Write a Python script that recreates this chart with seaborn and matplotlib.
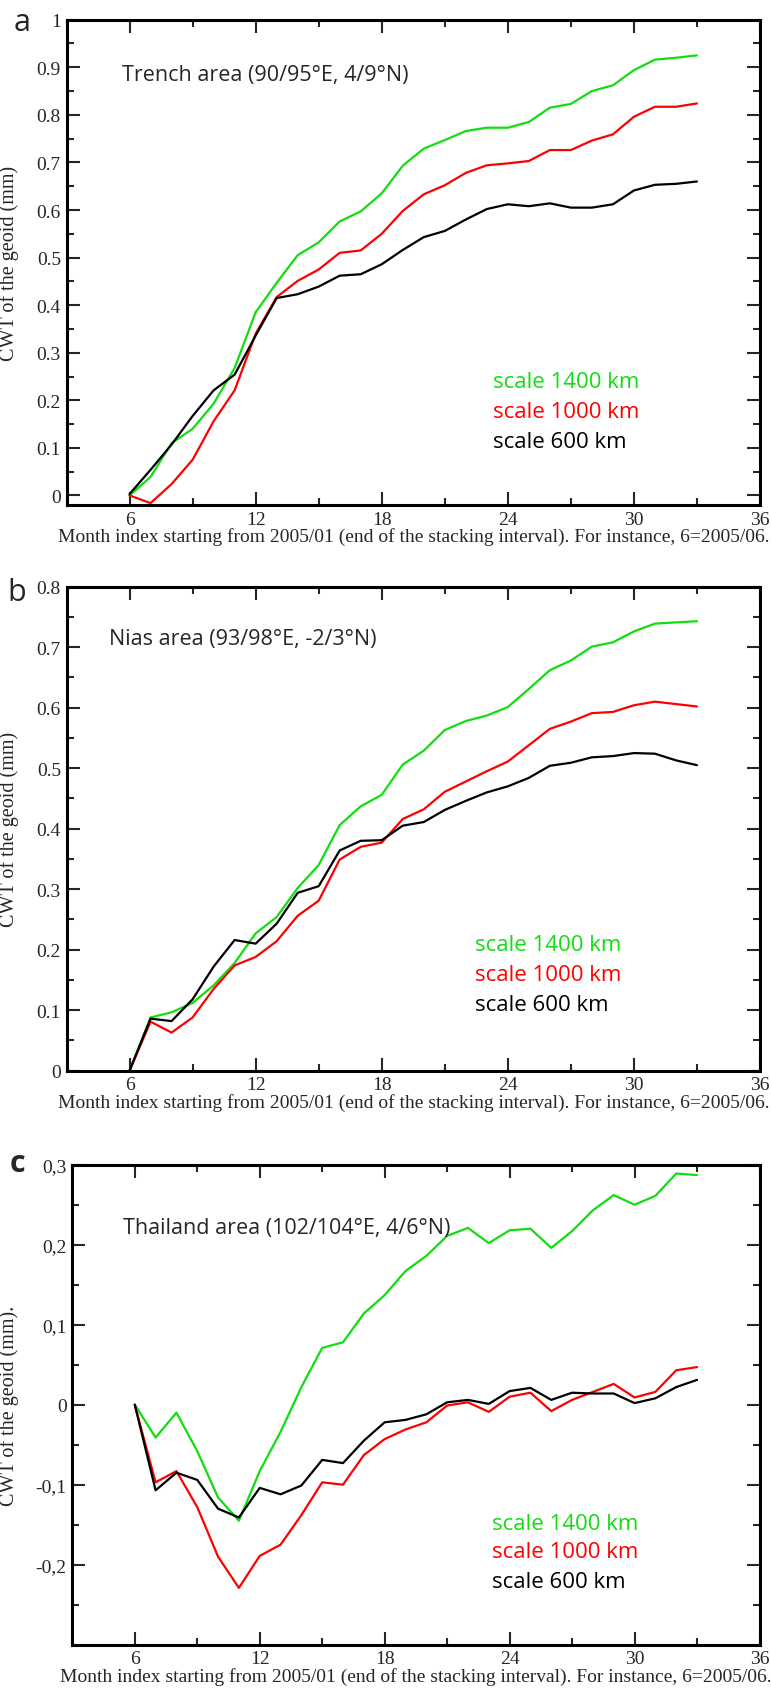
import pandas as pd
import seaborn as sns
import matplotlib.pyplot as plt
from matplotlib.ticker import MultipleLocator

# Month index (end of the stacking interval)
months = list(range(6, 34))

# Panel a: Trench area
trench_1400 = [0.0, 0.039, 0.110, 0.140, 0.193, 0.268, 0.385, 0.447, 0.505, 0.532,
               0.576, 0.597, 0.635, 0.693, 0.729, 0.747, 0.766, 0.773, 0.773, 0.785,
               0.815, 0.823, 0.850, 0.862, 0.894, 0.916, 0.920, 0.925]
trench_1000 = [0.0, -0.016, 0.024, 0.075, 0.156, 0.221, 0.340, 0.417, 0.451, 0.475,
               0.510, 0.515, 0.550, 0.598, 0.633, 0.652, 0.678, 0.694, 0.698, 0.703,
               0.726, 0.726, 0.746, 0.759, 0.796, 0.817, 0.817, 0.824]
trench_600 = [0.003, 0.054, 0.107, 0.167, 0.221, 0.254, 0.336, 0.415, 0.423, 0.439,
              0.462, 0.465, 0.486, 0.516, 0.543, 0.556, 0.580, 0.602, 0.612, 0.608,
              0.614, 0.605, 0.605, 0.612, 0.641, 0.653, 0.655, 0.660]

# Panel b: Nias area
nias_1400 = [0.0, 0.088, 0.0965, 0.112, 0.141, 0.178, 0.227, 0.254, 0.302, 0.340,
             0.406, 0.437, 0.456, 0.506, 0.529, 0.563, 0.578, 0.587, 0.601, 0.631,
             0.662, 0.678, 0.701, 0.708, 0.726, 0.739, 0.741, 0.743]
nias_1000 = [0.0, 0.081, 0.063, 0.088, 0.135, 0.174, 0.188, 0.214, 0.256, 0.281,
             0.349, 0.370, 0.377, 0.416, 0.432, 0.461, 0.478, 0.495, 0.511, 0.538,
             0.565, 0.577, 0.591, 0.593, 0.604, 0.610, 0.606, 0.602]
nias_600 = [0.0, 0.086, 0.082, 0.118, 0.172, 0.216, 0.210, 0.243, 0.294, 0.305,
            0.364, 0.380, 0.381, 0.405, 0.411, 0.431, 0.446, 0.460, 0.470, 0.484,
            0.504, 0.509, 0.518, 0.520, 0.525, 0.524, 0.513, 0.505]

# Panel c: Thailand area
thai_1400 = [0.0, -0.041, -0.010, -0.058, -0.116, -0.145, -0.083, -0.034, 0.022, 0.071,
             0.078, 0.114, 0.137, 0.167, 0.186, 0.211, 0.221, 0.202, 0.218, 0.220,
             0.196, 0.217, 0.243, 0.262, 0.250, 0.261, 0.289, 0.287]
thai_1000 = [0.0, -0.097, -0.083, -0.128, -0.190, -0.229, -0.189, -0.175, -0.138, -0.097,
             -0.100, -0.063, -0.043, -0.031, -0.022, -0.001, 0.003, -0.009, 0.010, 0.015,
             -0.008, 0.006, 0.016, 0.026, 0.009, 0.016, 0.043, 0.047]
thai_600 = [0.0, -0.107, -0.085, -0.094, -0.130, -0.141, -0.104, -0.112, -0.101, -0.069,
            -0.073, -0.045, -0.022, -0.019, -0.012, 0.003, 0.006, 0.001, 0.017, 0.021,
            0.006, 0.015, 0.014, 0.014, 0.002, 0.008, 0.022, 0.031]

scale_labels = ["scale 1400 km", "scale 1000 km", "scale 600 km"]
colors = ["#11dd11", "#ff0000", "#000000"]

# tick values and their printed labels
x_ticks = [6, 12, 18, 24, 30, 36]
y_ticks_a = [0, 0.1, 0.2, 0.3, 0.4, 0.5, 0.6, 0.7, 0.8, 0.9, 1.0]
y_labels_a = ["0", "0.1", "0.2", "0.3", "0.4", "0.5", "0.6", "0.7", "0.8", "0.9", "1"]
y_ticks_b = [0, 0.1, 0.2, 0.3, 0.4, 0.5, 0.6, 0.7, 0.8]
y_labels_b = ["0", "0.1", "0.2", "0.3", "0.4", "0.5", "0.6", "0.7", "0.8"]
y_ticks_c = [-0.2, -0.1, 0, 0.1, 0.2, 0.3]
y_labels_c = ["-0,2", "-0,1", "0", "0,1", "0,2", "0,3"]

area_titles = ["Trench area (90/95°E, 4/9°N)",
               "Nias area (93/98°E, -2/3°N)",
               "Thailand area (102/104°E, 4/6°N)"]
panel_letters = ["a", "b", "c"]
xlabel = ("Month index starting from 2005/01 (end of the stacking interval). "
          "For instance, 6=2005/06.")
ylabels = ["CWT of the geoid (mm)", "CWT of the geoid (mm)", "CWT of the geoid (mm)."]

sns.set_style("ticks")
serif = ["Liberation Serif", "DejaVu Serif"]
sans = ["Open Sans", "DejaVu Sans"]
plt.rcParams["font.family"] = serif

fig = plt.figure(figsize=(7.71, 16.9), dpi=100)

# axes rectangles in figure fraction
rects = [
    [66.5 / 771, 1 - 506.0 / 1690, 693.5 / 771, 485.3 / 1690],
    [66.5 / 771, 1 - 1071.7 / 1690, 693.5 / 771, 484.0 / 1690],
    [72.3 / 771, 1 - 1645.7 / 1690, 687.2 / 771, 480.0 / 1690],
]
ylims = [(-0.02, 1.0), (0.0, 0.8), (-0.3, 0.3)]
yticks = [(y_ticks_a, y_labels_a), (y_ticks_b, y_labels_b), (y_ticks_c, y_labels_c)]
panels = [(trench_1400, trench_1000, trench_600),
          (nias_1400, nias_1000, nias_600),
          (thai_1400, thai_1000, thai_600)]
title_pos = [(5.63, 0.884), (5.02, 0.714), (5.43, 0.222)]
legend_x = [23.29, 22.43, 23.15]
legend_y = [(0.240, 0.176, 0.114), (0.208, 0.159, 0.110), (-0.148, -0.184, -0.221)]
letter_pos = [(22, 23), (17, 593), (17, 1164)]

for i in range(3):
    ax = fig.add_axes(rects[i])
    df = pd.DataFrame({"month": months * 3,
                       "cwt": panels[i][0] + panels[i][1] + panels[i][2],
                       "scale": sum([[s] * len(months) for s in scale_labels], [])})
    sns.lineplot(data=df, x="month", y="cwt", hue="scale", palette=colors,
                 hue_order=scale_labels, linewidth=1.6, legend=False, ax=ax)

    ax.set_xticks(x_ticks, labels=[str(t) for t in x_ticks], fontsize=14,
                  family="Liberation Serif")
    ax.set_yticks(yticks[i][0], labels=yticks[i][1], fontsize=14,
                  family="Liberation Serif")
    ax.xaxis.set_minor_locator(MultipleLocator(3))
    ax.yaxis.set_minor_locator(MultipleLocator(0.05))
    ax.set_xlim(3, 36)
    ax.set_ylim(*ylims[i])

    ax.tick_params(which="both", direction="in", top=True, right=True, width=1.5)
    ax.tick_params(which="major", length=9.5, pad=4)
    ax.tick_params(which="minor", length=5)
    for sp in ax.spines.values():
        sp.set_linewidth(2.2)
        sp.set_color("black")

    ax.set_xlabel(xlabel, fontsize=14, labelpad=0)
    ax.set_ylabel(ylabels[i], fontsize=14.5)
    ax.yaxis.set_label_coords(-0.069 if i < 2 else -0.078, 0.5)

    ax.text(title_pos[i][0], title_pos[i][1], area_titles[i], family=sans,
            fontsize=15.5, ha="left", va="center")
    for lab, col, yy in zip(scale_labels, colors, legend_y[i]):
        ax.text(legend_x[i], yy, lab, color=col, family=sans, fontsize=16,
                ha="left", va="center")

    fig.text(letter_pos[i][0] / 771, 1 - letter_pos[i][1] / 1690, panel_letters[i],
             family=sans, fontsize=22,
             fontweight="bold" if i == 2 else "normal", ha="center", va="center")

fig.savefig("out.png", dpi=100)
